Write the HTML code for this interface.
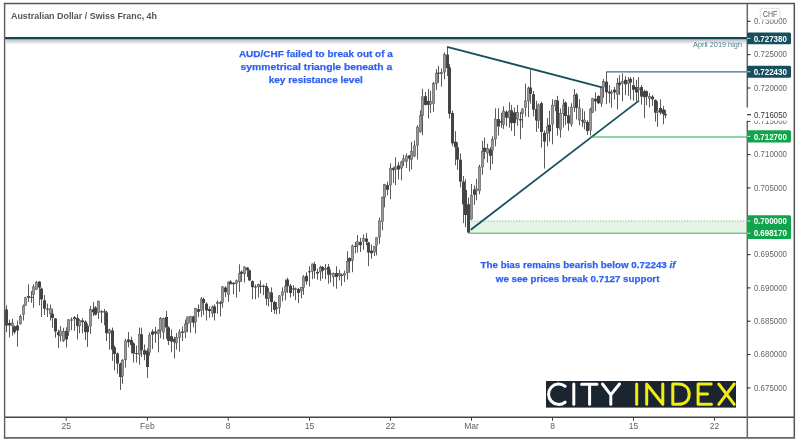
<!DOCTYPE html>
<html><head><meta charset="utf-8"><title>AUD/CHF 4h</title>
<style>html,body{margin:0;padding:0;background:#fff;} body{width:799px;height:445px;position:relative;overflow:hidden;}</style>
</head><body>
<svg width="799" height="445" viewBox="0 0 799 445" style="position:absolute;left:0;top:0;will-change:transform">
<defs><linearGradient id="sh" x1="0" y1="0" x2="0" y2="1"><stop offset="0" stop-color="#bdbdbd"/><stop offset="1" stop-color="#ffffff"/></linearGradient></defs>
<rect x="0" y="0" width="799" height="445" fill="#fff"/>
<rect x="468.5" y="221" width="278.5" height="12.3" fill="#e6f4e8"/>
<line x1="468.5" y1="221" x2="747" y2="221" stroke="#6cc78a" stroke-width="1" stroke-dasharray="1.2,1.6"/>
<line x1="468.5" y1="233.3" x2="747" y2="233.3" stroke="#6fcf8f" stroke-width="1.6"/>
<rect x="6" y="305.30" width="1" height="26.90" fill="#5a5a5a"/>
<rect x="5" y="309.50" width="3" height="16.00" fill="#444"/>
<rect x="9" y="319.60" width="1" height="17.70" fill="#5a5a5a"/>
<rect x="8" y="323.00" width="3" height="2.50" fill="#444"/>
<rect x="12" y="318.80" width="1" height="16.80" fill="#5a5a5a"/>
<rect x="11.4" y="323.00" width="2.2" height="2.50" fill="#999" stroke="#585858" stroke-width="0.6"/>
<rect x="14" y="325.50" width="1" height="8.50" fill="#5a5a5a"/>
<rect x="13" y="326.30" width="3" height="5.90" fill="#444"/>
<rect x="17" y="320.50" width="1" height="26.00" fill="#5a5a5a"/>
<rect x="16" y="325.50" width="3" height="5.00" fill="#444"/>
<rect x="20" y="314.50" width="1" height="10.20" fill="#5a5a5a"/>
<rect x="19.4" y="316.30" width="2.2" height="7.50" fill="#999" stroke="#585858" stroke-width="0.6"/>
<rect x="23" y="304.50" width="1" height="16.00" fill="#5a5a5a"/>
<rect x="22.4" y="306.10" width="2.2" height="8.50" fill="#999" stroke="#585858" stroke-width="0.6"/>
<rect x="25" y="296.90" width="1" height="9.10" fill="#5a5a5a"/>
<rect x="24.4" y="297.70" width="2.2" height="7.60" fill="#999" stroke="#585858" stroke-width="0.6"/>
<rect x="28" y="284.30" width="1" height="17.70" fill="#5a5a5a"/>
<rect x="27" y="296.00" width="3" height="1.70" fill="#444"/>
<rect x="31" y="291.00" width="1" height="11.80" fill="#5a5a5a"/>
<rect x="30" y="296.90" width="3" height="1.00" fill="#444"/>
<rect x="33" y="284.30" width="1" height="23.50" fill="#5a5a5a"/>
<rect x="32.4" y="286.80" width="2.2" height="7.60" fill="#999" stroke="#585858" stroke-width="0.6"/>
<rect x="36" y="280.90" width="1" height="9.10" fill="#5a5a5a"/>
<rect x="35.4" y="282.60" width="2.2" height="6.70" fill="#999" stroke="#585858" stroke-width="0.6"/>
<rect x="39" y="280.90" width="1" height="24.40" fill="#5a5a5a"/>
<rect x="38" y="281.70" width="3" height="5.90" fill="#444"/>
<rect x="41" y="287.60" width="1" height="29.40" fill="#5a5a5a"/>
<rect x="40" y="288.50" width="3" height="10.90" fill="#444"/>
<rect x="44" y="295.00" width="1" height="20.00" fill="#5a5a5a"/>
<rect x="43" y="300.30" width="3" height="8.40" fill="#444"/>
<rect x="47" y="303.60" width="1" height="13.40" fill="#5a5a5a"/>
<rect x="46" y="308.70" width="3" height="1.00" fill="#444"/>
<rect x="50" y="304.50" width="1" height="16.00" fill="#5a5a5a"/>
<rect x="49.4" y="308.70" width="2.2" height="5.00" fill="#999" stroke="#585858" stroke-width="0.6"/>
<rect x="52" y="308.70" width="1" height="19.10" fill="#5a5a5a"/>
<rect x="51" y="313.70" width="3" height="4.30" fill="#444"/>
<rect x="55" y="317.90" width="1" height="19.80" fill="#5a5a5a"/>
<rect x="54" y="318.50" width="3" height="13.00" fill="#444"/>
<rect x="58" y="329.60" width="1" height="18.50" fill="#5a5a5a"/>
<rect x="57" y="332.10" width="3" height="3.10" fill="#444"/>
<rect x="60" y="326.00" width="1" height="15.40" fill="#5a5a5a"/>
<rect x="59.4" y="330.90" width="2.2" height="4.90" fill="#999" stroke="#585858" stroke-width="0.6"/>
<rect x="63" y="327.80" width="1" height="14.20" fill="#5a5a5a"/>
<rect x="62.4" y="331.50" width="2.2" height="9.20" fill="#999" stroke="#585858" stroke-width="0.6"/>
<rect x="66" y="327.20" width="1" height="20.30" fill="#5a5a5a"/>
<rect x="65" y="330.90" width="3" height="8.60" fill="#444"/>
<rect x="68" y="319.00" width="1" height="16.80" fill="#5a5a5a"/>
<rect x="67.4" y="319.80" width="2.2" height="11.70" fill="#999" stroke="#585858" stroke-width="0.6"/>
<rect x="71" y="317.30" width="1" height="12.90" fill="#5a5a5a"/>
<rect x="70" y="319.50" width="3" height="1.00" fill="#444"/>
<rect x="74" y="316.00" width="1" height="14.90" fill="#5a5a5a"/>
<rect x="73" y="317.30" width="3" height="1.80" fill="#444"/>
<rect x="77" y="314.20" width="1" height="25.30" fill="#5a5a5a"/>
<rect x="76" y="317.90" width="3" height="8.00" fill="#444"/>
<rect x="79" y="319.10" width="1" height="14.20" fill="#5a5a5a"/>
<rect x="78.4" y="320.40" width="2.2" height="5.50" fill="#999" stroke="#585858" stroke-width="0.6"/>
<rect x="82" y="317.90" width="1" height="15.40" fill="#5a5a5a"/>
<rect x="81" y="320.40" width="3" height="1.80" fill="#444"/>
<rect x="85" y="320.40" width="1" height="19.70" fill="#5a5a5a"/>
<rect x="84" y="321.60" width="3" height="10.50" fill="#444"/>
<rect x="87" y="323.50" width="1" height="23.40" fill="#5a5a5a"/>
<rect x="86" y="325.90" width="3" height="6.20" fill="#444"/>
<rect x="90" y="306.20" width="1" height="27.80" fill="#5a5a5a"/>
<rect x="89.4" y="309.30" width="2.2" height="16.60" fill="#999" stroke="#585858" stroke-width="0.6"/>
<rect x="93" y="301.90" width="1" height="14.10" fill="#5a5a5a"/>
<rect x="92" y="309.30" width="3" height="3.00" fill="#444"/>
<rect x="95" y="306.20" width="1" height="9.20" fill="#5a5a5a"/>
<rect x="94" y="307.40" width="3" height="7.40" fill="#444"/>
<rect x="98" y="300.60" width="1" height="18.50" fill="#5a5a5a"/>
<rect x="97.4" y="301.20" width="2.2" height="11.10" fill="#999" stroke="#585858" stroke-width="0.6"/>
<rect x="101" y="310.20" width="1" height="12.80" fill="#5a5a5a"/>
<rect x="100" y="311.30" width="3" height="1.10" fill="#444"/>
<rect x="104" y="309.00" width="1" height="16.30" fill="#5a5a5a"/>
<rect x="103" y="311.30" width="3" height="1.10" fill="#444"/>
<rect x="106" y="310.70" width="1" height="30.30" fill="#5a5a5a"/>
<rect x="105" y="312.40" width="3" height="20.80" fill="#444"/>
<rect x="109" y="328.70" width="1" height="20.90" fill="#5a5a5a"/>
<rect x="108.4" y="329.80" width="2.2" height="3.40" fill="#999" stroke="#585858" stroke-width="0.6"/>
<rect x="112" y="327.60" width="1" height="33.20" fill="#5a5a5a"/>
<rect x="111" y="330.40" width="3" height="19.20" fill="#444"/>
<rect x="114" y="345.60" width="1" height="24.70" fill="#5a5a5a"/>
<rect x="113" y="347.30" width="3" height="6.70" fill="#444"/>
<rect x="117" y="352.40" width="1" height="21.30" fill="#5a5a5a"/>
<rect x="116" y="353.50" width="3" height="10.10" fill="#444"/>
<rect x="120" y="362.50" width="1" height="27.50" fill="#5a5a5a"/>
<rect x="119" y="363.60" width="3" height="13.40" fill="#444"/>
<rect x="122" y="359.10" width="1" height="24.70" fill="#5a5a5a"/>
<rect x="121.4" y="360.20" width="2.2" height="15.80" fill="#999" stroke="#585858" stroke-width="0.6"/>
<rect x="125" y="338.80" width="1" height="28.70" fill="#5a5a5a"/>
<rect x="124.4" y="341.00" width="2.2" height="18.70" fill="#999" stroke="#585858" stroke-width="0.6"/>
<rect x="128" y="332.00" width="1" height="15.30" fill="#5a5a5a"/>
<rect x="127" y="339.40" width="3" height="2.80" fill="#444"/>
<rect x="131" y="336.60" width="1" height="16.90" fill="#5a5a5a"/>
<rect x="130" y="340.00" width="3" height="5.00" fill="#444"/>
<rect x="133" y="342.20" width="1" height="20.30" fill="#5a5a5a"/>
<rect x="132" y="343.40" width="3" height="10.10" fill="#444"/>
<rect x="136" y="345.60" width="1" height="16.90" fill="#5a5a5a"/>
<rect x="135" y="353.00" width="3" height="1.00" fill="#444"/>
<rect x="139" y="327.60" width="1" height="37.10" fill="#5a5a5a"/>
<rect x="138.4" y="334.30" width="2.2" height="20.30" fill="#999" stroke="#585858" stroke-width="0.6"/>
<rect x="141" y="327.60" width="1" height="29.30" fill="#5a5a5a"/>
<rect x="140" y="334.30" width="3" height="15.80" fill="#444"/>
<rect x="144" y="344.50" width="1" height="15.70" fill="#5a5a5a"/>
<rect x="143" y="350.10" width="3" height="4.50" fill="#444"/>
<rect x="147" y="348.30" width="1" height="29.70" fill="#5a5a5a"/>
<rect x="146" y="350.70" width="3" height="16.30" fill="#444"/>
<rect x="149" y="332.50" width="1" height="23.20" fill="#5a5a5a"/>
<rect x="148.4" y="335.50" width="2.2" height="16.80" fill="#999" stroke="#585858" stroke-width="0.6"/>
<rect x="152" y="329.40" width="1" height="19.60" fill="#5a5a5a"/>
<rect x="151" y="331.50" width="3" height="3.30" fill="#444"/>
<rect x="155" y="327.00" width="1" height="15.90" fill="#5a5a5a"/>
<rect x="154" y="331.50" width="3" height="2.00" fill="#444"/>
<rect x="158" y="329.40" width="1" height="22.90" fill="#5a5a5a"/>
<rect x="157.4" y="330.10" width="2.2" height="3.40" fill="#999" stroke="#585858" stroke-width="0.6"/>
<rect x="160" y="317.00" width="1" height="21.20" fill="#5a5a5a"/>
<rect x="159.4" y="318.30" width="2.2" height="12.50" fill="#999" stroke="#585858" stroke-width="0.6"/>
<rect x="163" y="317.70" width="1" height="21.80" fill="#5a5a5a"/>
<rect x="162.4" y="318.30" width="2.2" height="13.80" fill="#999" stroke="#585858" stroke-width="0.6"/>
<rect x="166" y="310.90" width="1" height="28.00" fill="#5a5a5a"/>
<rect x="165" y="317.00" width="3" height="10.50" fill="#444"/>
<rect x="168" y="326.30" width="1" height="18.70" fill="#5a5a5a"/>
<rect x="167" y="327.40" width="3" height="13.50" fill="#444"/>
<rect x="171" y="329.40" width="1" height="22.90" fill="#5a5a5a"/>
<rect x="170" y="336.20" width="3" height="5.40" fill="#444"/>
<rect x="174" y="336.80" width="1" height="21.60" fill="#5a5a5a"/>
<rect x="173" y="338.90" width="3" height="3.30" fill="#444"/>
<rect x="176" y="333.00" width="1" height="16.60" fill="#5a5a5a"/>
<rect x="175.4" y="337.50" width="2.2" height="5.40" fill="#999" stroke="#585858" stroke-width="0.6"/>
<rect x="179" y="329.40" width="1" height="22.30" fill="#5a5a5a"/>
<rect x="178.4" y="332.10" width="2.2" height="5.40" fill="#999" stroke="#585858" stroke-width="0.6"/>
<rect x="182" y="326.70" width="1" height="14.20" fill="#5a5a5a"/>
<rect x="181" y="331.50" width="3" height="1.30" fill="#444"/>
<rect x="185" y="319.50" width="1" height="18.70" fill="#5a5a5a"/>
<rect x="184.4" y="324.00" width="2.2" height="8.10" fill="#999" stroke="#585858" stroke-width="0.6"/>
<rect x="187" y="316.40" width="1" height="15.70" fill="#5a5a5a"/>
<rect x="186.4" y="317.00" width="2.2" height="6.80" fill="#999" stroke="#585858" stroke-width="0.6"/>
<rect x="190" y="315.80" width="1" height="17.00" fill="#5a5a5a"/>
<rect x="189.4" y="316.40" width="2.2" height="6.20" fill="#999" stroke="#585858" stroke-width="0.6"/>
<rect x="193" y="315.80" width="1" height="11.60" fill="#5a5a5a"/>
<rect x="192" y="316.40" width="3" height="6.20" fill="#444"/>
<rect x="195" y="307.80" width="1" height="25.70" fill="#5a5a5a"/>
<rect x="194.4" y="308.40" width="2.2" height="13.50" fill="#999" stroke="#585858" stroke-width="0.6"/>
<rect x="198" y="304.40" width="1" height="12.80" fill="#5a5a5a"/>
<rect x="197" y="309.10" width="3" height="2.70" fill="#444"/>
<rect x="201" y="297.00" width="1" height="20.20" fill="#5a5a5a"/>
<rect x="200.4" y="299.00" width="2.2" height="11.40" fill="#999" stroke="#585858" stroke-width="0.6"/>
<rect x="203" y="297.60" width="1" height="17.50" fill="#5a5a5a"/>
<rect x="202" y="299.00" width="3" height="4.00" fill="#444"/>
<rect x="206" y="302.30" width="1" height="18.20" fill="#5a5a5a"/>
<rect x="205" y="303.70" width="3" height="6.70" fill="#444"/>
<rect x="209" y="306.40" width="1" height="11.40" fill="#5a5a5a"/>
<rect x="208" y="309.10" width="3" height="2.00" fill="#444"/>
<rect x="212" y="305.70" width="1" height="11.50" fill="#5a5a5a"/>
<rect x="211.4" y="307.00" width="2.2" height="6.10" fill="#999" stroke="#585858" stroke-width="0.6"/>
<rect x="214" y="304.40" width="1" height="16.10" fill="#5a5a5a"/>
<rect x="213" y="306.40" width="3" height="6.70" fill="#444"/>
<rect x="217" y="300.30" width="1" height="13.50" fill="#5a5a5a"/>
<rect x="216.4" y="302.30" width="2.2" height="1.40" fill="#999" stroke="#585858" stroke-width="0.6"/>
<rect x="220" y="301.00" width="1" height="15.50" fill="#5a5a5a"/>
<rect x="219" y="302.30" width="3" height="1.40" fill="#444"/>
<rect x="222" y="286.20" width="1" height="21.50" fill="#5a5a5a"/>
<rect x="221.4" y="286.80" width="2.2" height="15.50" fill="#999" stroke="#585858" stroke-width="0.6"/>
<rect x="225" y="286.20" width="1" height="10.80" fill="#5a5a5a"/>
<rect x="224" y="287.50" width="3" height="4.70" fill="#444"/>
<rect x="228" y="281.50" width="1" height="20.20" fill="#5a5a5a"/>
<rect x="227.4" y="282.10" width="2.2" height="12.20" fill="#999" stroke="#585858" stroke-width="0.6"/>
<rect x="230" y="280.10" width="1" height="4.10" fill="#5a5a5a"/>
<rect x="229" y="281.50" width="3" height="2.70" fill="#444"/>
<rect x="233" y="282.10" width="1" height="12.20" fill="#5a5a5a"/>
<rect x="232" y="282.80" width="3" height="1.40" fill="#444"/>
<rect x="236" y="279.60" width="1" height="17.90" fill="#5a5a5a"/>
<rect x="235.4" y="280.80" width="2.2" height="2.70" fill="#999" stroke="#585858" stroke-width="0.6"/>
<rect x="239" y="264.30" width="1" height="27.60" fill="#5a5a5a"/>
<rect x="238.4" y="273.70" width="2.2" height="8.10" fill="#999" stroke="#585858" stroke-width="0.6"/>
<rect x="241" y="270.30" width="1" height="11.50" fill="#5a5a5a"/>
<rect x="240" y="271.70" width="3" height="2.00" fill="#444"/>
<rect x="244" y="266.30" width="1" height="16.20" fill="#5a5a5a"/>
<rect x="243.4" y="267.00" width="2.2" height="6.70" fill="#999" stroke="#585858" stroke-width="0.6"/>
<rect x="247" y="267.00" width="1" height="10.00" fill="#5a5a5a"/>
<rect x="246" y="267.60" width="3" height="2.70" fill="#444"/>
<rect x="249" y="269.60" width="1" height="11.50" fill="#5a5a5a"/>
<rect x="248" y="270.30" width="3" height="10.10" fill="#444"/>
<rect x="252" y="280.40" width="1" height="18.90" fill="#5a5a5a"/>
<rect x="251" y="281.10" width="3" height="6.10" fill="#444"/>
<rect x="255" y="284.50" width="1" height="14.70" fill="#5a5a5a"/>
<rect x="254" y="286.50" width="3" height="1.00" fill="#444"/>
<rect x="258" y="283.80" width="1" height="13.70" fill="#5a5a5a"/>
<rect x="257.4" y="284.60" width="2.2" height="2.20" fill="#999" stroke="#585858" stroke-width="0.6"/>
<rect x="260" y="280.40" width="1" height="13.10" fill="#5a5a5a"/>
<rect x="259" y="285.70" width="3" height="1.10" fill="#444"/>
<rect x="263" y="284.60" width="1" height="10.60" fill="#5a5a5a"/>
<rect x="262" y="285.70" width="3" height="1.10" fill="#444"/>
<rect x="266" y="283.10" width="1" height="22.20" fill="#5a5a5a"/>
<rect x="265" y="286.20" width="3" height="12.40" fill="#444"/>
<rect x="268" y="287.90" width="1" height="18.60" fill="#5a5a5a"/>
<rect x="267.4" y="291.90" width="2.2" height="6.70" fill="#999" stroke="#585858" stroke-width="0.6"/>
<rect x="271" y="287.40" width="1" height="24.70" fill="#5a5a5a"/>
<rect x="270" y="292.40" width="3" height="9.60" fill="#444"/>
<rect x="274" y="300.80" width="1" height="13.00" fill="#5a5a5a"/>
<rect x="273" y="302.00" width="3" height="7.80" fill="#444"/>
<rect x="276" y="302.00" width="1" height="12.30" fill="#5a5a5a"/>
<rect x="275" y="307.60" width="3" height="1.10" fill="#444"/>
<rect x="279" y="295.20" width="1" height="18.60" fill="#5a5a5a"/>
<rect x="278.4" y="295.80" width="2.2" height="11.80" fill="#999" stroke="#585858" stroke-width="0.6"/>
<rect x="282" y="287.40" width="1" height="14.00" fill="#5a5a5a"/>
<rect x="281.4" y="291.90" width="2.2" height="3.30" fill="#999" stroke="#585858" stroke-width="0.6"/>
<rect x="285" y="279.50" width="1" height="20.80" fill="#5a5a5a"/>
<rect x="284.4" y="286.20" width="2.2" height="5.70" fill="#999" stroke="#585858" stroke-width="0.6"/>
<rect x="287" y="277.80" width="1" height="15.20" fill="#5a5a5a"/>
<rect x="286" y="279.50" width="3" height="6.70" fill="#444"/>
<rect x="290" y="284.00" width="1" height="13.50" fill="#5a5a5a"/>
<rect x="289" y="285.70" width="3" height="7.30" fill="#444"/>
<rect x="293" y="285.10" width="1" height="11.20" fill="#5a5a5a"/>
<rect x="292" y="288.50" width="3" height="1.00" fill="#444"/>
<rect x="295" y="287.40" width="1" height="12.90" fill="#5a5a5a"/>
<rect x="294.4" y="288.50" width="2.2" height="1.10" fill="#999" stroke="#585858" stroke-width="0.6"/>
<rect x="298" y="287.90" width="1" height="15.20" fill="#5a5a5a"/>
<rect x="297" y="289.10" width="3" height="3.90" fill="#444"/>
<rect x="301" y="287.00" width="1" height="11.30" fill="#5a5a5a"/>
<rect x="300.4" y="287.60" width="2.2" height="3.40" fill="#999" stroke="#585858" stroke-width="0.6"/>
<rect x="303" y="275.20" width="1" height="19.70" fill="#5a5a5a"/>
<rect x="302.4" y="276.90" width="2.2" height="10.70" fill="#999" stroke="#585858" stroke-width="0.6"/>
<rect x="306" y="272.40" width="1" height="12.40" fill="#5a5a5a"/>
<rect x="305" y="275.80" width="3" height="5.60" fill="#444"/>
<rect x="309" y="266.20" width="1" height="20.30" fill="#5a5a5a"/>
<rect x="308" y="271.30" width="3" height="1.00" fill="#444"/>
<rect x="312" y="263.40" width="1" height="15.80" fill="#5a5a5a"/>
<rect x="311.4" y="264.00" width="2.2" height="7.30" fill="#999" stroke="#585858" stroke-width="0.6"/>
<rect x="314" y="261.70" width="1" height="16.90" fill="#5a5a5a"/>
<rect x="313" y="264.00" width="3" height="6.70" fill="#444"/>
<rect x="317" y="268.50" width="1" height="11.20" fill="#5a5a5a"/>
<rect x="316" y="271.90" width="3" height="1.60" fill="#444"/>
<rect x="320" y="265.70" width="1" height="15.10" fill="#5a5a5a"/>
<rect x="319.4" y="267.40" width="2.2" height="4.50" fill="#999" stroke="#585858" stroke-width="0.6"/>
<rect x="322" y="266.20" width="1" height="12.40" fill="#5a5a5a"/>
<rect x="321" y="266.80" width="3" height="3.90" fill="#444"/>
<rect x="325" y="264.00" width="1" height="15.20" fill="#5a5a5a"/>
<rect x="324.4" y="268.50" width="2.2" height="1.00" fill="#999" stroke="#585858" stroke-width="0.6"/>
<rect x="328" y="264.00" width="1" height="19.70" fill="#5a5a5a"/>
<rect x="327" y="266.80" width="3" height="7.90" fill="#444"/>
<rect x="330" y="269.60" width="1" height="12.90" fill="#5a5a5a"/>
<rect x="329" y="273.50" width="3" height="1.00" fill="#444"/>
<rect x="333" y="272.40" width="1" height="14.10" fill="#5a5a5a"/>
<rect x="332.4" y="273.50" width="2.2" height="3.40" fill="#999" stroke="#585858" stroke-width="0.6"/>
<rect x="336" y="266.20" width="1" height="22.50" fill="#5a5a5a"/>
<rect x="335" y="273.00" width="3" height="3.90" fill="#444"/>
<rect x="339" y="269.60" width="1" height="10.70" fill="#5a5a5a"/>
<rect x="338.4" y="273.50" width="2.2" height="2.30" fill="#999" stroke="#585858" stroke-width="0.6"/>
<rect x="341" y="273.50" width="1" height="12.40" fill="#5a5a5a"/>
<rect x="340" y="274.70" width="3" height="1.10" fill="#444"/>
<rect x="344" y="270.70" width="1" height="11.30" fill="#5a5a5a"/>
<rect x="343.4" y="273.50" width="2.2" height="1.70" fill="#999" stroke="#585858" stroke-width="0.6"/>
<rect x="347" y="251.30" width="1" height="28.30" fill="#5a5a5a"/>
<rect x="346.4" y="261.40" width="2.2" height="11.40" fill="#999" stroke="#585858" stroke-width="0.6"/>
<rect x="349" y="257.30" width="1" height="15.50" fill="#5a5a5a"/>
<rect x="348" y="258.00" width="3" height="3.40" fill="#444"/>
<rect x="352" y="244.50" width="1" height="27.70" fill="#5a5a5a"/>
<rect x="351.4" y="245.90" width="2.2" height="14.80" fill="#999" stroke="#585858" stroke-width="0.6"/>
<rect x="355" y="241.80" width="1" height="11.50" fill="#5a5a5a"/>
<rect x="354" y="245.90" width="3" height="1.00" fill="#444"/>
<rect x="357" y="235.10" width="1" height="17.50" fill="#5a5a5a"/>
<rect x="356.4" y="241.80" width="2.2" height="3.40" fill="#999" stroke="#585858" stroke-width="0.6"/>
<rect x="360" y="237.80" width="1" height="14.20" fill="#5a5a5a"/>
<rect x="359" y="241.80" width="3" height="3.40" fill="#444"/>
<rect x="363" y="234.40" width="1" height="15.50" fill="#5a5a5a"/>
<rect x="362.4" y="238.50" width="2.2" height="2.70" fill="#999" stroke="#585858" stroke-width="0.6"/>
<rect x="366" y="233.10" width="1" height="12.10" fill="#5a5a5a"/>
<rect x="365" y="238.50" width="3" height="3.30" fill="#444"/>
<rect x="368" y="241.80" width="1" height="24.30" fill="#5a5a5a"/>
<rect x="367" y="242.50" width="3" height="10.10" fill="#444"/>
<rect x="371" y="244.50" width="1" height="14.20" fill="#5a5a5a"/>
<rect x="370" y="250.60" width="3" height="2.70" fill="#444"/>
<rect x="374" y="245.90" width="1" height="10.10" fill="#5a5a5a"/>
<rect x="373.4" y="246.60" width="2.2" height="5.40" fill="#999" stroke="#585858" stroke-width="0.6"/>
<rect x="376" y="237.10" width="1" height="18.20" fill="#5a5a5a"/>
<rect x="375.4" y="237.80" width="2.2" height="7.40" fill="#999" stroke="#585858" stroke-width="0.6"/>
<rect x="379" y="217.50" width="1" height="26.40" fill="#5a5a5a"/>
<rect x="378.4" y="220.80" width="2.2" height="16.30" fill="#999" stroke="#585858" stroke-width="0.6"/>
<rect x="382" y="196.60" width="1" height="33.70" fill="#5a5a5a"/>
<rect x="381.4" y="197.20" width="2.2" height="24.30" fill="#999" stroke="#585858" stroke-width="0.6"/>
<rect x="384" y="183.80" width="1" height="23.50" fill="#5a5a5a"/>
<rect x="383.4" y="184.40" width="2.2" height="12.80" fill="#999" stroke="#585858" stroke-width="0.6"/>
<rect x="387" y="181.70" width="1" height="13.50" fill="#5a5a5a"/>
<rect x="386" y="185.10" width="3" height="4.70" fill="#444"/>
<rect x="390" y="163.40" width="1" height="35.90" fill="#5a5a5a"/>
<rect x="389.4" y="168.10" width="2.2" height="16.90" fill="#999" stroke="#585858" stroke-width="0.6"/>
<rect x="393" y="166.80" width="1" height="16.20" fill="#5a5a5a"/>
<rect x="392" y="168.10" width="3" height="2.00" fill="#444"/>
<rect x="395" y="157.30" width="1" height="27.70" fill="#5a5a5a"/>
<rect x="394.4" y="166.80" width="2.2" height="2.70" fill="#999" stroke="#585858" stroke-width="0.6"/>
<rect x="398" y="162.00" width="1" height="17.60" fill="#5a5a5a"/>
<rect x="397" y="165.40" width="3" height="4.10" fill="#444"/>
<rect x="401" y="160.70" width="1" height="19.60" fill="#5a5a5a"/>
<rect x="400.4" y="162.00" width="2.2" height="6.10" fill="#999" stroke="#585858" stroke-width="0.6"/>
<rect x="403" y="154.60" width="1" height="11.50" fill="#5a5a5a"/>
<rect x="402.4" y="158.70" width="2.2" height="2.70" fill="#999" stroke="#585858" stroke-width="0.6"/>
<rect x="406" y="153.30" width="1" height="14.80" fill="#5a5a5a"/>
<rect x="405.4" y="156.00" width="2.2" height="5.40" fill="#999" stroke="#585858" stroke-width="0.6"/>
<rect x="409" y="155.30" width="1" height="16.20" fill="#5a5a5a"/>
<rect x="408" y="155.30" width="3" height="3.40" fill="#444"/>
<rect x="411" y="141.80" width="1" height="27.70" fill="#5a5a5a"/>
<rect x="410.4" y="151.30" width="2.2" height="8.10" fill="#999" stroke="#585858" stroke-width="0.6"/>
<rect x="414" y="140.50" width="1" height="16.80" fill="#5a5a5a"/>
<rect x="413.4" y="145.90" width="2.2" height="10.10" fill="#999" stroke="#585858" stroke-width="0.6"/>
<rect x="417" y="125.10" width="1" height="34.30" fill="#5a5a5a"/>
<rect x="416.4" y="127.20" width="2.2" height="18.00" fill="#999" stroke="#585858" stroke-width="0.6"/>
<rect x="420" y="110.30" width="1" height="22.30" fill="#5a5a5a"/>
<rect x="419.4" y="115.70" width="2.2" height="16.20" fill="#999" stroke="#585858" stroke-width="0.6"/>
<rect x="422" y="88.80" width="1" height="46.50" fill="#5a5a5a"/>
<rect x="421.4" y="96.80" width="2.2" height="18.90" fill="#999" stroke="#585858" stroke-width="0.6"/>
<rect x="425" y="92.10" width="1" height="13.50" fill="#5a5a5a"/>
<rect x="424" y="96.20" width="3" height="8.70" fill="#444"/>
<rect x="428" y="88.80" width="1" height="29.60" fill="#5a5a5a"/>
<rect x="427" y="100.90" width="3" height="4.00" fill="#444"/>
<rect x="430" y="90.80" width="1" height="22.20" fill="#5a5a5a"/>
<rect x="429.4" y="101.60" width="2.2" height="2.70" fill="#999" stroke="#585858" stroke-width="0.6"/>
<rect x="433" y="82.00" width="1" height="29.70" fill="#5a5a5a"/>
<rect x="432.4" y="83.40" width="2.2" height="20.20" fill="#999" stroke="#585858" stroke-width="0.6"/>
<rect x="436" y="69.20" width="1" height="20.80" fill="#5a5a5a"/>
<rect x="435.4" y="73.10" width="2.2" height="10.20" fill="#999" stroke="#585858" stroke-width="0.6"/>
<rect x="438" y="65.80" width="1" height="16.90" fill="#5a5a5a"/>
<rect x="437" y="72.60" width="3" height="1.10" fill="#444"/>
<rect x="441" y="68.70" width="1" height="17.90" fill="#5a5a5a"/>
<rect x="440.4" y="72.60" width="2.2" height="1.10" fill="#999" stroke="#585858" stroke-width="0.6"/>
<rect x="444" y="52.40" width="1" height="26.90" fill="#5a5a5a"/>
<rect x="443.4" y="54.60" width="2.2" height="17.40" fill="#999" stroke="#585858" stroke-width="0.6"/>
<rect x="447" y="47.30" width="1" height="28.70" fill="#5a5a5a"/>
<rect x="446" y="54.60" width="3" height="13.50" fill="#444"/>
<rect x="449" y="64.20" width="1" height="54.30" fill="#5a5a5a"/>
<rect x="448" y="67.50" width="3" height="46.30" fill="#444"/>
<rect x="452" y="110.70" width="1" height="35.50" fill="#5a5a5a"/>
<rect x="451" y="113.00" width="3" height="30.40" fill="#444"/>
<rect x="455" y="131.10" width="1" height="34.20" fill="#5a5a5a"/>
<rect x="454" y="141.70" width="3" height="5.60" fill="#444"/>
<rect x="457" y="142.20" width="1" height="27.60" fill="#5a5a5a"/>
<rect x="456" y="147.30" width="3" height="12.40" fill="#444"/>
<rect x="460" y="153.50" width="1" height="33.90" fill="#5a5a5a"/>
<rect x="459" y="159.70" width="3" height="21.90" fill="#444"/>
<rect x="463" y="176.00" width="1" height="47.10" fill="#5a5a5a"/>
<rect x="462" y="181.60" width="3" height="22.70" fill="#444"/>
<rect x="465" y="179.30" width="1" height="47.90" fill="#5a5a5a"/>
<rect x="464" y="190.00" width="3" height="25.00" fill="#444"/>
<rect x="468" y="197.50" width="1" height="35.70" fill="#5a5a5a"/>
<rect x="467" y="204.30" width="3" height="28.20" fill="#444"/>
<rect x="471" y="184.00" width="1" height="35.80" fill="#5a5a5a"/>
<rect x="470.4" y="195.50" width="2.2" height="23.60" fill="#999" stroke="#585858" stroke-width="0.6"/>
<rect x="474" y="185.40" width="1" height="19.50" fill="#5a5a5a"/>
<rect x="473" y="189.40" width="3" height="5.40" fill="#444"/>
<rect x="476" y="178.80" width="1" height="21.40" fill="#5a5a5a"/>
<rect x="475.4" y="188.80" width="2.2" height="2.00" fill="#999" stroke="#585858" stroke-width="0.6"/>
<rect x="479" y="164.70" width="1" height="29.50" fill="#5a5a5a"/>
<rect x="478.4" y="167.00" width="2.2" height="23.80" fill="#999" stroke="#585858" stroke-width="0.6"/>
<rect x="482" y="141.00" width="1" height="33.80" fill="#5a5a5a"/>
<rect x="481.4" y="151.30" width="2.2" height="15.70" fill="#999" stroke="#585858" stroke-width="0.6"/>
<rect x="484" y="137.60" width="1" height="21.50" fill="#5a5a5a"/>
<rect x="483" y="147.80" width="3" height="4.00" fill="#444"/>
<rect x="487" y="143.70" width="1" height="18.90" fill="#5a5a5a"/>
<rect x="486.4" y="148.40" width="2.2" height="4.70" fill="#999" stroke="#585858" stroke-width="0.6"/>
<rect x="490" y="147.10" width="1" height="22.90" fill="#5a5a5a"/>
<rect x="489" y="149.10" width="3" height="6.70" fill="#444"/>
<rect x="492" y="136.30" width="1" height="27.60" fill="#5a5a5a"/>
<rect x="491.4" y="139.60" width="2.2" height="10.80" fill="#999" stroke="#585858" stroke-width="0.6"/>
<rect x="495" y="108.30" width="1" height="38.10" fill="#5a5a5a"/>
<rect x="494.4" y="119.10" width="2.2" height="19.90" fill="#999" stroke="#585858" stroke-width="0.6"/>
<rect x="498" y="108.30" width="1" height="27.30" fill="#5a5a5a"/>
<rect x="497" y="119.10" width="3" height="7.40" fill="#444"/>
<rect x="501" y="112.70" width="1" height="15.10" fill="#5a5a5a"/>
<rect x="500" y="121.10" width="3" height="1.40" fill="#444"/>
<rect x="503" y="106.30" width="1" height="22.60" fill="#5a5a5a"/>
<rect x="502.4" y="111.00" width="2.2" height="13.50" fill="#999" stroke="#585858" stroke-width="0.6"/>
<rect x="506" y="110.30" width="1" height="15.90" fill="#5a5a5a"/>
<rect x="505" y="111.70" width="3" height="6.00" fill="#444"/>
<rect x="509" y="102.20" width="1" height="25.60" fill="#5a5a5a"/>
<rect x="508.4" y="111.00" width="2.2" height="6.70" fill="#999" stroke="#585858" stroke-width="0.6"/>
<rect x="511" y="104.90" width="1" height="26.00" fill="#5a5a5a"/>
<rect x="510" y="110.30" width="3" height="12.80" fill="#444"/>
<rect x="514" y="107.60" width="1" height="28.30" fill="#5a5a5a"/>
<rect x="513" y="112.30" width="3" height="10.80" fill="#444"/>
<rect x="517" y="104.90" width="1" height="20.90" fill="#5a5a5a"/>
<rect x="516.4" y="112.30" width="2.2" height="6.80" fill="#999" stroke="#585858" stroke-width="0.6"/>
<rect x="520" y="111.70" width="1" height="27.60" fill="#5a5a5a"/>
<rect x="519" y="119.10" width="3" height="1.30" fill="#444"/>
<rect x="522" y="108.30" width="1" height="19.50" fill="#5a5a5a"/>
<rect x="521.4" y="109.00" width="2.2" height="4.70" fill="#999" stroke="#585858" stroke-width="0.6"/>
<rect x="525" y="83.70" width="1" height="32.70" fill="#5a5a5a"/>
<rect x="524.4" y="100.90" width="2.2" height="6.70" fill="#999" stroke="#585858" stroke-width="0.6"/>
<rect x="528" y="86.50" width="1" height="30.60" fill="#5a5a5a"/>
<rect x="527.4" y="88.10" width="2.2" height="12.80" fill="#999" stroke="#585858" stroke-width="0.6"/>
<rect x="530" y="69.70" width="1" height="33.90" fill="#5a5a5a"/>
<rect x="529" y="87.60" width="3" height="6.20" fill="#444"/>
<rect x="533" y="91.00" width="1" height="25.40" fill="#5a5a5a"/>
<rect x="532" y="94.20" width="3" height="15.40" fill="#444"/>
<rect x="536" y="100.90" width="1" height="31.00" fill="#5a5a5a"/>
<rect x="535" y="109.00" width="3" height="11.40" fill="#444"/>
<rect x="538" y="103.60" width="1" height="24.90" fill="#5a5a5a"/>
<rect x="537.4" y="104.90" width="2.2" height="15.50" fill="#999" stroke="#585858" stroke-width="0.6"/>
<rect x="541" y="101.80" width="1" height="45.80" fill="#5a5a5a"/>
<rect x="540" y="103.20" width="3" height="28.80" fill="#444"/>
<rect x="544" y="130.50" width="1" height="38.00" fill="#5a5a5a"/>
<rect x="543" y="132.80" width="3" height="8.80" fill="#444"/>
<rect x="547" y="118.00" width="1" height="28.30" fill="#5a5a5a"/>
<rect x="546.4" y="126.80" width="2.2" height="6.70" fill="#999" stroke="#585858" stroke-width="0.6"/>
<rect x="549" y="110.60" width="1" height="31.00" fill="#5a5a5a"/>
<rect x="548" y="124.80" width="3" height="6.70" fill="#444"/>
<rect x="552" y="99.20" width="1" height="45.10" fill="#5a5a5a"/>
<rect x="551.4" y="105.20" width="2.2" height="18.90" fill="#999" stroke="#585858" stroke-width="0.6"/>
<rect x="555" y="99.80" width="1" height="11.50" fill="#5a5a5a"/>
<rect x="554.4" y="100.50" width="2.2" height="5.40" fill="#999" stroke="#585858" stroke-width="0.6"/>
<rect x="557" y="95.80" width="1" height="39.70" fill="#5a5a5a"/>
<rect x="556" y="100.50" width="3" height="27.60" fill="#444"/>
<rect x="560" y="108.60" width="1" height="29.00" fill="#5a5a5a"/>
<rect x="559.4" y="113.30" width="2.2" height="16.20" fill="#999" stroke="#585858" stroke-width="0.6"/>
<rect x="563" y="99.20" width="1" height="28.30" fill="#5a5a5a"/>
<rect x="562.4" y="105.20" width="2.2" height="8.10" fill="#999" stroke="#585858" stroke-width="0.6"/>
<rect x="565" y="101.20" width="1" height="23.60" fill="#5a5a5a"/>
<rect x="564" y="102.50" width="3" height="13.50" fill="#444"/>
<rect x="568" y="106.60" width="1" height="24.20" fill="#5a5a5a"/>
<rect x="567" y="115.30" width="3" height="8.10" fill="#444"/>
<rect x="571" y="103.20" width="1" height="23.60" fill="#5a5a5a"/>
<rect x="570.4" y="107.20" width="2.2" height="16.90" fill="#999" stroke="#585858" stroke-width="0.6"/>
<rect x="574" y="89.00" width="1" height="23.00" fill="#5a5a5a"/>
<rect x="573.4" y="95.10" width="2.2" height="12.10" fill="#999" stroke="#585858" stroke-width="0.6"/>
<rect x="576" y="93.10" width="1" height="26.30" fill="#5a5a5a"/>
<rect x="575" y="94.40" width="3" height="13.50" fill="#444"/>
<rect x="579" y="99.20" width="1" height="26.20" fill="#5a5a5a"/>
<rect x="578.4" y="107.90" width="2.2" height="12.10" fill="#999" stroke="#585858" stroke-width="0.6"/>
<rect x="582" y="108.60" width="1" height="18.20" fill="#5a5a5a"/>
<rect x="581" y="120.00" width="3" height="1.40" fill="#444"/>
<rect x="584" y="111.30" width="1" height="18.20" fill="#5a5a5a"/>
<rect x="583.4" y="120.00" width="2.2" height="2.70" fill="#999" stroke="#585858" stroke-width="0.6"/>
<rect x="587" y="120.30" width="1" height="14.60" fill="#5a5a5a"/>
<rect x="586" y="122.00" width="3" height="9.00" fill="#444"/>
<rect x="590" y="107.70" width="1" height="27.80" fill="#5a5a5a"/>
<rect x="589.4" y="109.50" width="2.2" height="20.60" fill="#999" stroke="#585858" stroke-width="0.6"/>
<rect x="592" y="97.80" width="1" height="15.30" fill="#5a5a5a"/>
<rect x="591.4" y="98.70" width="2.2" height="13.50" fill="#999" stroke="#585858" stroke-width="0.6"/>
<rect x="595" y="92.40" width="1" height="18.90" fill="#5a5a5a"/>
<rect x="594" y="98.70" width="3" height="2.70" fill="#444"/>
<rect x="598" y="95.10" width="1" height="9.00" fill="#5a5a5a"/>
<rect x="597" y="96.00" width="3" height="7.20" fill="#444"/>
<rect x="601" y="93.30" width="1" height="13.50" fill="#5a5a5a"/>
<rect x="600.4" y="87.00" width="2.2" height="16.20" fill="#999" stroke="#585858" stroke-width="0.6"/>
<rect x="603" y="78.90" width="1" height="18.90" fill="#5a5a5a"/>
<rect x="602.4" y="81.60" width="2.2" height="5.40" fill="#999" stroke="#585858" stroke-width="0.6"/>
<rect x="606" y="71.70" width="1" height="32.40" fill="#5a5a5a"/>
<rect x="605" y="81.60" width="3" height="10.80" fill="#444"/>
<rect x="609" y="85.20" width="1" height="18.00" fill="#5a5a5a"/>
<rect x="608" y="91.50" width="3" height="1.80" fill="#444"/>
<rect x="611" y="89.70" width="1" height="18.00" fill="#5a5a5a"/>
<rect x="610.4" y="92.40" width="2.2" height="1.00" fill="#999" stroke="#585858" stroke-width="0.6"/>
<rect x="614" y="87.00" width="1" height="12.60" fill="#5a5a5a"/>
<rect x="613" y="89.70" width="3" height="2.70" fill="#444"/>
<rect x="617" y="78.00" width="1" height="31.50" fill="#5a5a5a"/>
<rect x="616.4" y="83.40" width="2.2" height="10.80" fill="#999" stroke="#585858" stroke-width="0.6"/>
<rect x="619" y="75.30" width="1" height="19.80" fill="#5a5a5a"/>
<rect x="618" y="82.50" width="3" height="2.70" fill="#444"/>
<rect x="622" y="73.50" width="1" height="27.90" fill="#5a5a5a"/>
<rect x="621.4" y="81.60" width="2.2" height="1.80" fill="#999" stroke="#585858" stroke-width="0.6"/>
<rect x="625" y="76.20" width="1" height="18.90" fill="#5a5a5a"/>
<rect x="624" y="79.80" width="3" height="4.50" fill="#444"/>
<rect x="628" y="77.10" width="1" height="18.90" fill="#5a5a5a"/>
<rect x="627.4" y="80.70" width="2.2" height="2.70" fill="#999" stroke="#585858" stroke-width="0.6"/>
<rect x="630" y="77.10" width="1" height="22.50" fill="#5a5a5a"/>
<rect x="629" y="78.90" width="3" height="3.60" fill="#444"/>
<rect x="633" y="77.10" width="1" height="23.50" fill="#5a5a5a"/>
<rect x="632" y="85.20" width="3" height="4.60" fill="#444"/>
<rect x="636" y="79.80" width="1" height="21.60" fill="#5a5a5a"/>
<rect x="635" y="87.00" width="3" height="5.40" fill="#444"/>
<rect x="638" y="77.10" width="1" height="23.50" fill="#5a5a5a"/>
<rect x="637.4" y="87.80" width="2.2" height="2.00" fill="#999" stroke="#585858" stroke-width="0.6"/>
<rect x="641" y="85.10" width="1" height="19.50" fill="#5a5a5a"/>
<rect x="640" y="87.10" width="3" height="9.50" fill="#444"/>
<rect x="644" y="89.80" width="1" height="28.30" fill="#5a5a5a"/>
<rect x="643" y="91.20" width="3" height="6.00" fill="#444"/>
<rect x="646" y="90.50" width="1" height="14.80" fill="#5a5a5a"/>
<rect x="645" y="91.20" width="3" height="5.40" fill="#444"/>
<rect x="649" y="93.20" width="1" height="14.10" fill="#5a5a5a"/>
<rect x="648.4" y="96.60" width="2.2" height="2.00" fill="#999" stroke="#585858" stroke-width="0.6"/>
<rect x="652" y="95.20" width="1" height="10.80" fill="#5a5a5a"/>
<rect x="651" y="96.60" width="3" height="2.70" fill="#444"/>
<rect x="655" y="99.30" width="1" height="22.20" fill="#5a5a5a"/>
<rect x="654" y="99.90" width="3" height="12.80" fill="#444"/>
<rect x="657" y="101.30" width="1" height="25.60" fill="#5a5a5a"/>
<rect x="656.4" y="110.70" width="2.2" height="1.40" fill="#999" stroke="#585858" stroke-width="0.6"/>
<rect x="660" y="99.30" width="1" height="15.50" fill="#5a5a5a"/>
<rect x="659" y="108.00" width="3" height="4.70" fill="#444"/>
<rect x="663" y="106.00" width="1" height="18.20" fill="#5a5a5a"/>
<rect x="662" y="109.40" width="3" height="4.70" fill="#444"/>
<rect x="665" y="110.00" width="1" height="8.10" fill="#5a5a5a"/>
<rect x="664" y="114.10" width="3" height="1.30" fill="#444"/>
<rect x="6" y="39.2" width="741" height="5.5" fill="url(#sh)"/>
<line x1="4.5" y1="38.2" x2="747" y2="38.2" stroke="#0f4755" stroke-width="2.2"/>
<line x1="447" y1="46.8" x2="602" y2="87.4" stroke="#16505f" stroke-width="1.8"/>
<line x1="470.8" y1="229.8" x2="639" y2="100.6" stroke="#16505f" stroke-width="1.8"/>
<line x1="606.5" y1="71.8" x2="747" y2="71.8" stroke="#3a7080" stroke-width="1.2"/>
<line x1="590" y1="137" x2="747" y2="137" stroke="#22aa55" stroke-width="1"/>
<line x1="4.5" y1="417.3" x2="794.5" y2="417.3" stroke="#444" stroke-width="1.5"/>
<line x1="747.3" y1="3.5" x2="747.3" y2="437.5" stroke="#666" stroke-width="1.5"/>
<line x1="3.8" y1="3.4" x2="795" y2="3.4" stroke="#555" stroke-width="1.5"/>
<line x1="4.6" y1="3.4" x2="4.6" y2="438.5" stroke="#5c5c5c" stroke-width="1.4"/>
<line x1="794.3" y1="3.4" x2="794.3" y2="438.5" stroke="#555" stroke-width="1.5"/>
<line x1="3.8" y1="437.8" x2="795" y2="437.8" stroke="#666" stroke-width="1.7"/>
<text x="11" y="19.4" font-family='"Liberation Sans", sans-serif' font-size="9" font-weight="bold" fill="#555" textLength="146" lengthAdjust="spacingAndGlyphs">Australian Dollar / Swiss Franc, 4h</text>
<text x="742" y="46.9" text-anchor="end" font-family='"Liberation Sans", sans-serif' font-size="7.5" fill="#4d7d89" textLength="49" lengthAdjust="spacingAndGlyphs">April 2019 high</text>
<text x="238.9" y="57" font-family='"Liberation Sans", sans-serif' font-size="9.3" font-weight="bold" fill="#2f62f0" stroke="#2f62f0" stroke-width="0.25" textLength="153.9" lengthAdjust="spacingAndGlyphs">AUD/CHF failed to break out of a</text>
<text x="240.6" y="69.8" font-family='"Liberation Sans", sans-serif' font-size="9.3" font-weight="bold" fill="#2f62f0" stroke="#2f62f0" stroke-width="0.25" textLength="151.6" lengthAdjust="spacingAndGlyphs">symmetrical triangle beneath a</text>
<text x="268.7" y="82.6" font-family='"Liberation Sans", sans-serif' font-size="9.3" font-weight="bold" fill="#2f62f0" stroke="#2f62f0" stroke-width="0.25" textLength="94.1" lengthAdjust="spacingAndGlyphs">key resistance level</text>
<text x="480.5" y="267.6" font-family='"Liberation Sans", sans-serif' font-size="9.3" font-weight="bold" fill="#2f62f0" stroke="#2f62f0" stroke-width="0.25" textLength="195" lengthAdjust="spacingAndGlyphs">The bias remains bearish below 0.72243 <tspan font-style="italic">if</tspan></text>
<text x="495.8" y="282" font-family='"Liberation Sans", sans-serif' font-size="9.3" font-weight="bold" fill="#2f62f0" stroke="#2f62f0" stroke-width="0.25" textLength="163.6" lengthAdjust="spacingAndGlyphs">we see prices break 0.7127 support</text>
<line x1="747" y1="21.3" x2="750.5" y2="21.3" stroke="#333" stroke-width="1.1"/>
<text x="754" y="24.0" font-family='"Liberation Sans", sans-serif' font-size="9.4" fill="#666" textLength="33" lengthAdjust="spacingAndGlyphs">0.730000</text>
<line x1="747" y1="54.6" x2="750.5" y2="54.6" stroke="#333" stroke-width="1.1"/>
<text x="754" y="57.3" font-family='"Liberation Sans", sans-serif' font-size="9.4" fill="#666" textLength="33" lengthAdjust="spacingAndGlyphs">0.725000</text>
<line x1="747" y1="88.0" x2="750.5" y2="88.0" stroke="#333" stroke-width="1.1"/>
<text x="754" y="90.7" font-family='"Liberation Sans", sans-serif' font-size="9.4" fill="#666" textLength="33" lengthAdjust="spacingAndGlyphs">0.720000</text>
<line x1="747" y1="121.3" x2="750.5" y2="121.3" stroke="#333" stroke-width="1.1"/>
<text x="754" y="124.0" font-family='"Liberation Sans", sans-serif' font-size="9.4" fill="#666" textLength="33" lengthAdjust="spacingAndGlyphs">0.715000</text>
<line x1="747" y1="154.6" x2="750.5" y2="154.6" stroke="#333" stroke-width="1.1"/>
<text x="754" y="157.3" font-family='"Liberation Sans", sans-serif' font-size="9.4" fill="#666" textLength="33" lengthAdjust="spacingAndGlyphs">0.710000</text>
<line x1="747" y1="187.9" x2="750.5" y2="187.9" stroke="#333" stroke-width="1.1"/>
<text x="754" y="190.6" font-family='"Liberation Sans", sans-serif' font-size="9.4" fill="#666" textLength="33" lengthAdjust="spacingAndGlyphs">0.705000</text>
<line x1="747" y1="254.6" x2="750.5" y2="254.6" stroke="#333" stroke-width="1.1"/>
<text x="754" y="257.3" font-family='"Liberation Sans", sans-serif' font-size="9.4" fill="#666" textLength="33" lengthAdjust="spacingAndGlyphs">0.695000</text>
<line x1="747" y1="287.9" x2="750.5" y2="287.9" stroke="#333" stroke-width="1.1"/>
<text x="754" y="290.6" font-family='"Liberation Sans", sans-serif' font-size="9.4" fill="#666" textLength="33" lengthAdjust="spacingAndGlyphs">0.690000</text>
<line x1="747" y1="321.2" x2="750.5" y2="321.2" stroke="#333" stroke-width="1.1"/>
<text x="754" y="323.9" font-family='"Liberation Sans", sans-serif' font-size="9.4" fill="#666" textLength="33" lengthAdjust="spacingAndGlyphs">0.685000</text>
<line x1="747" y1="354.5" x2="750.5" y2="354.5" stroke="#333" stroke-width="1.1"/>
<text x="754" y="357.2" font-family='"Liberation Sans", sans-serif' font-size="9.4" fill="#666" textLength="33" lengthAdjust="spacingAndGlyphs">0.680000</text>
<line x1="747" y1="387.9" x2="750.5" y2="387.9" stroke="#333" stroke-width="1.1"/>
<text x="754" y="390.6" font-family='"Liberation Sans", sans-serif' font-size="9.4" fill="#666" textLength="33" lengthAdjust="spacingAndGlyphs">0.675000</text>
<rect x="746" y="107.6" width="45" height="13.1" fill="#fff"/>
<line x1="747" y1="114.7" x2="751" y2="114.7" stroke="#333" stroke-width="1.2"/>
<text x="754" y="118.2" font-family='"Liberation Sans", sans-serif' font-size="9" fill="#333" textLength="33" lengthAdjust="spacingAndGlyphs">0.716050</text>
<rect x="747" y="32.5" width="44" height="11.8" rx="1.5" fill="#16505f"/>
<line x1="747" y1="38.4" x2="750.5" y2="38.4" stroke="#cfe" stroke-opacity="0.8" stroke-width="1"/>
<text x="753.7" y="41.6" font-family='"Liberation Sans", sans-serif' font-size="9" font-weight="bold" fill="#fff" textLength="33.2" lengthAdjust="spacingAndGlyphs">0.727380</text>
<rect x="747" y="65.8" width="44" height="11.9" rx="1.5" fill="#16505f"/>
<line x1="747" y1="71.8" x2="750.5" y2="71.8" stroke="#cfe" stroke-opacity="0.8" stroke-width="1"/>
<text x="753.7" y="75.0" font-family='"Liberation Sans", sans-serif' font-size="9" font-weight="bold" fill="#fff" textLength="33.2" lengthAdjust="spacingAndGlyphs">0.722430</text>
<rect x="747" y="130.2" width="44" height="12.3" rx="1.5" fill="#0fa64b"/>
<line x1="747" y1="136.4" x2="750.5" y2="136.4" stroke="#cfe" stroke-opacity="0.8" stroke-width="1"/>
<text x="753.7" y="139.6" font-family='"Liberation Sans", sans-serif' font-size="9" font-weight="bold" fill="#fff" textLength="33.2" lengthAdjust="spacingAndGlyphs">0.712700</text>
<rect x="747" y="215.2" width="44" height="23.8" rx="1.5" fill="#0fa64b"/>
<line x1="747" y1="221.0" x2="750.5" y2="221.0" stroke="#cfe" stroke-opacity="0.8" stroke-width="1"/>
<text x="753.7" y="224.2" font-family='"Liberation Sans", sans-serif' font-size="9" font-weight="bold" fill="#fff" textLength="33.2" lengthAdjust="spacingAndGlyphs">0.700000</text>
<line x1="747" y1="233.2" x2="750.5" y2="233.2" stroke="#cfe" stroke-opacity="0.8" stroke-width="1"/>
<text x="753.7" y="236.4" font-family='"Liberation Sans", sans-serif' font-size="9" font-weight="bold" fill="#fff" textLength="33.2" lengthAdjust="spacingAndGlyphs">0.698170</text>
<rect x="760.2" y="8.3" width="19.8" height="11.5" rx="3" fill="#fff" stroke="#d8dce8" stroke-width="0.8"/>
<text x="763.1" y="16.6" font-family='"Liberation Sans", sans-serif' font-size="8.4" fill="#555" textLength="14.2" lengthAdjust="spacingAndGlyphs">CHF</text>
<line x1="66.2" y1="417.3" x2="66.2" y2="420.8" stroke="#444" stroke-width="1"/>
<text x="66.2" y="429" text-anchor="middle" font-family='"Liberation Sans", sans-serif' font-size="8.5" fill="#5e5e5e">25</text>
<line x1="147.4" y1="417.3" x2="147.4" y2="420.8" stroke="#444" stroke-width="1"/>
<text x="147.4" y="429" text-anchor="middle" font-family='"Liberation Sans", sans-serif' font-size="8.5" fill="#5e5e5e">Feb</text>
<line x1="228.2" y1="417.3" x2="228.2" y2="420.8" stroke="#444" stroke-width="1"/>
<text x="228.2" y="429" text-anchor="middle" font-family='"Liberation Sans", sans-serif' font-size="8.5" fill="#5e5e5e">8</text>
<line x1="309.5" y1="417.3" x2="309.5" y2="420.8" stroke="#444" stroke-width="1"/>
<text x="309.5" y="429" text-anchor="middle" font-family='"Liberation Sans", sans-serif' font-size="8.5" fill="#5e5e5e">15</text>
<line x1="390.5" y1="417.3" x2="390.5" y2="420.8" stroke="#444" stroke-width="1"/>
<text x="390.5" y="429" text-anchor="middle" font-family='"Liberation Sans", sans-serif' font-size="8.5" fill="#5e5e5e">22</text>
<line x1="471.5" y1="417.3" x2="471.5" y2="420.8" stroke="#444" stroke-width="1"/>
<text x="471.5" y="429" text-anchor="middle" font-family='"Liberation Sans", sans-serif' font-size="8.5" fill="#5e5e5e">Mar</text>
<line x1="552.5" y1="417.3" x2="552.5" y2="420.8" stroke="#444" stroke-width="1"/>
<text x="552.5" y="429" text-anchor="middle" font-family='"Liberation Sans", sans-serif' font-size="8.5" fill="#5e5e5e">8</text>
<line x1="633.5" y1="417.3" x2="633.5" y2="420.8" stroke="#444" stroke-width="1"/>
<text x="633.5" y="429" text-anchor="middle" font-family='"Liberation Sans", sans-serif' font-size="8.5" fill="#5e5e5e">15</text>
<line x1="714.5" y1="417.3" x2="714.5" y2="420.8" stroke="#444" stroke-width="1"/>
<text x="714.5" y="429" text-anchor="middle" font-family='"Liberation Sans", sans-serif' font-size="8.5" fill="#5e5e5e">22</text>
<rect x="546" y="381" width="190" height="26.6" fill="#1b2530"/>
<g fill="none" stroke-width="3.0" stroke-linecap="round" stroke-linejoin="round" stroke="#ffffff">
<path d="M565.1 386.2 A10.2 10.2 0 1 0 565.1 402.2"/>
<path d="M573.8 384 V404.3"/>
<path d="M581.6 384.2 H597 M589.6 384.2 V404.3"/>
<path d="M602.5 384 L610.8 394.8 L619.5 384 M610.8 394.8 V404.3"/>
</g>
<g fill="none" stroke-width="3.0" stroke-linecap="round" stroke-linejoin="round" stroke="#f2ec12">
<path d="M636.7 384 V404.3"/>
<path d="M646.7 404.3 V384 L662.8 404.3 V384"/>
<path d="M672.8 384.1 V404.3 H678 C685.5 404.3 689.2 399.8 689.2 394.2 C689.2 388.6 685.5 384.1 678 384.1 Z"/>
<path d="M711.2 384.1 H698.1 V404.3 H711.5 M698.1 394 H707.5"/>
<path d="M718.8 384 L734.2 404.3 M734.2 384 L718.8 404.3"/>
</g>
</svg>
</body></html>
